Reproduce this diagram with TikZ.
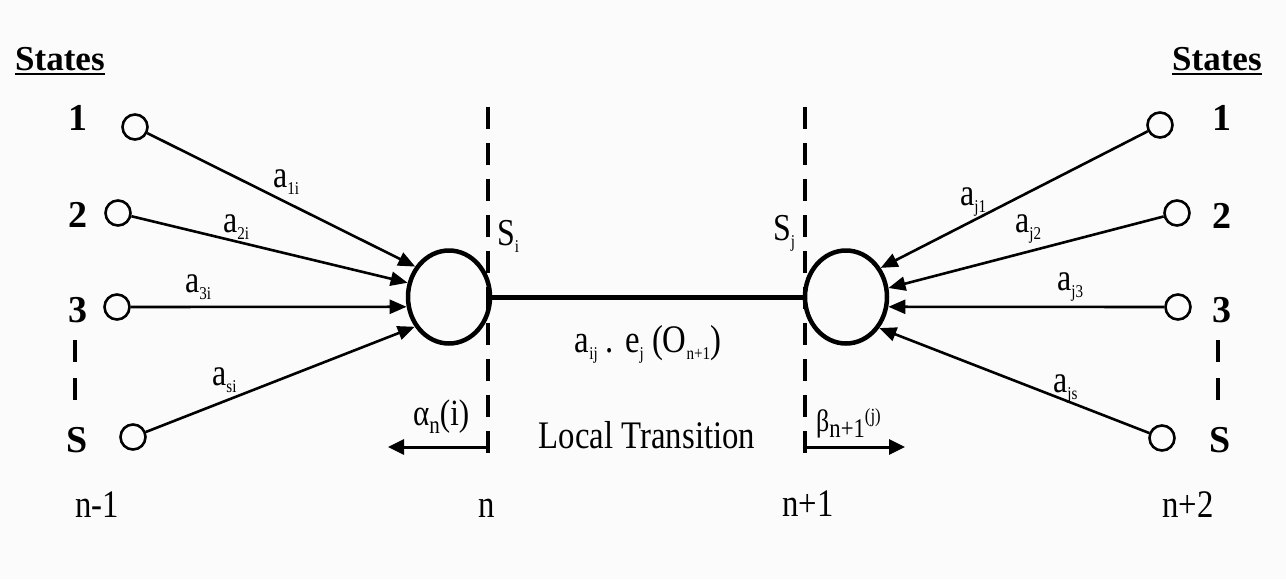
\documentclass[tikz,border=0pt]{standalone}
\usepackage{fontspec}
\setmainfont{Liberation Serif}
\newfontfamily\cnd{Liberation Serif}[FakeStretch=0.84]
\usetikzlibrary{arrows.meta,shapes.geometric}
\newcommand\fsz[1]{\fontsize{#1}{#1}\selectfont}
\newcommand\sbs[1]{\raisebox{-7pt}{\fsz{18}#1}}
\begin{document}
\begin{tikzpicture}[x=1pt,y=-1pt,
  smallst/.style={circle,draw,line width=2.6pt,minimum size=25pt,inner sep=0pt},
  bigst/.style={ellipse,draw,line width=4.5pt,minimum width=82pt,minimum height=93pt,inner sep=0pt},
  arr/.style={line width=2.6pt,-{Triangle[length=17pt,width=14pt]}},
  flow/.style={line width=3pt,-{Triangle[length=16pt,width=15pt]}},
  vdash/.style={line width=4pt,dash pattern=on 22pt off 14pt},
  sdash/.style={line width=3.5pt,dash pattern=on 22pt off 16pt},
  lab/.style={inner sep=0pt,anchor=base west,font=\cnd\fsz{38}},
  txt/.style={inner sep=0pt,anchor=base,font=\cnd\fsz{39}},
  num/.style={inner sep=0pt,anchor=base,font=\bfseries\fsz{38}},
  hd/.style={inner sep=0pt,anchor=base west,font=\bfseries\fsz{35}}]
\fill[gray!3] (0,0) rectangle (1286,579);
\useasboundingbox (0,0) rectangle (1286,579);
% big states
\node[bigst] (L) at (449,297) {};
\node[bigst] (R) at (846,297) {};
% left small states
\node[smallst] (l1) at (135,127) {};
\node[smallst] (l2) at (118,213) {};
\node[smallst] (l3) at (117,307) {};
\node[smallst] (lS) at (133,437) {};
% right small states
\node[smallst] (r1) at (1160,125) {};
\node[smallst] (r2) at (1177,213) {};
\node[smallst] (r3) at (1178,307) {};
\node[smallst] (rS) at (1162,438) {};
% headers
\node[hd] (stL) at (15,70) {States};
\node[hd] (stR) at (1172,70) {States};
\draw[line width=2pt] ([yshift=-4pt]stL.base west) -- ([yshift=-4pt]stL.base east);
\draw[line width=2pt] ([yshift=-4pt]stR.base west) -- ([yshift=-4pt]stR.base east);
% state numbers
\node[num] (nl1) at (78,130) {1};
\node[num] (nl2) at (78,227) {2};
\node[num] (nl3) at (78,322) {3};
\node[num] (nlS) at (77,452) {S};
\node[num] (nr1) at (1222,130) {1};
\node[num] (nr2) at (1222,228) {2};
\node[num] (nr3) at (1222,322) {3};
\node[num] (nrS) at (1220,452) {S};
\coordinate (ldt) at (75,340); \coordinate (ldb) at (75,400);
\coordinate (rdt) at (1218,340); \coordinate (rdb) at (1218,400);
\draw[sdash] (ldt) -- (ldb);
\draw[sdash] (rdt) -- (rdb);
% time labels
\node[txt] (t1) at (97,517) {n-1};
\node[txt] (t2) at (487,517) {n};
\node[txt] (t3) at (808,516) {n+1};
\node[txt] (t4) at (1188,517) {n+2};
% dashed time lines
\coordinate (dnT) at (488,107); \coordinate (dnB) at (488,467);
\coordinate (dmT) at (805,107); \coordinate (dmB) at (805,467);
\draw[vdash] (dnT) -- (dnB);
\draw[vdash] (dmT) -- (dmB);
% local transition
\draw[line width=5pt] (L.east) -- (R.west);
% incoming arrows
\draw[arr] (l1) -- (L.138);
\draw[arr] (l2) -- (L.161);
\draw[arr] (l3) -- (L.193);
\draw[arr] (lS) -- (L.221);
\draw[arr] (r1) -- (R.40);
\draw[arr] (r2) -- (R.12);
\draw[arr] (r3) -- (R.347);
\draw[arr] (rS) -- (R.317);
% edge labels
\node[lab] (a1i) at (273,187) {a\sbs{1i}};
\node[lab] (a2i) at (223,232) {a\sbs{2i}};
\node[lab] (a3i) at (185,292) {a\sbs{3i}};
\node[lab] (asi) at (212,385) {a\sbs{si}};
\node[lab] (aj1) at (960,205) {a\sbs{j1}};
\node[lab] (aj2) at (1015,232) {a\sbs{j2}};
\node[lab] (aj3) at (1057,290) {a\sbs{j3}};
\node[lab] (ajs) at (1053,392) {a\sbs{js}};
% S_i, S_j
\node[lab] (si) at (497,245) {S\sbs{i}};
\node[lab] (sj) at (773,240) {S\sbs{j}};
% middle texts
\node[txt] (emit) at (648,352) {a\sbs{ij} . e\sbs{j} (O\sbs{n+1})};
\node[txt] (loc) at (647,448) {Local Transition};
% alpha / beta
\node[lab,font=\cnd\fsz{37}] (alpha) at (413,425) {α\raisebox{-8pt}{\fsz{25}n}(i)};
\node[lab,font=\cnd\fsz{31}] (beta) at (816,431) {β\raisebox{-6pt}{\fsz{27}n+1}\raisebox{9pt}{\fsz{20}(j)}};
\coordinate (aS) at (488,447); \coordinate (aE) at (388,447);
\coordinate (bS) at (805,447); \coordinate (bE) at (905,447);
\draw[flow] (aS) -- (aE);
\draw[flow] (bS) -- (bE);
\end{tikzpicture}
\end{document}
